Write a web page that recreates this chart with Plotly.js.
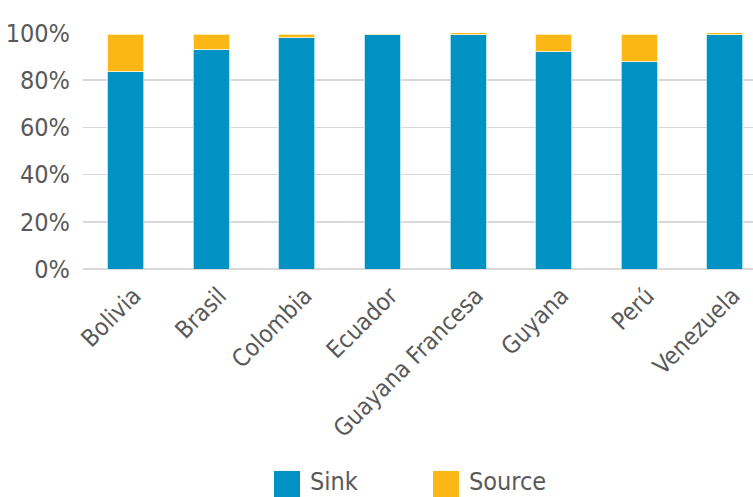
<!DOCTYPE html>
<html>
<head>
<meta charset="utf-8">
<script src="https://cdn.plot.ly/plotly-3.0.1.min.js"></script>
<style>
html,body{margin:0;padding:0;background:#fff;}
#chart{width:753px;height:497px;}
</style>
</head>
<body>
<div id="chart"></div>
<script>
const countries = ["Bolivia","Brasil","Colombia","Ecuador","Guayana Francesa","Guyana","Perú","Venezuela"];
const sinkValues = [83.9, 93.2, 98.3, 99.4, 99.4, 92.3, 88.0, 99.4];
const sourceValues = [15.5, 6.2, 1.1, 0.0, 1.2, 7.1, 11.4, 1.2];
const yTickValues = [0, 20, 40, 60, 80, 100];
const yTickLabels = ["0%", "20%", "40%", "60%", "80%", "100%"];
const seriesNames = ["Sink", "Source"];
const seriesColors = ["#0192C4", "#FBB716"];

const FONT = "'DejaVu Sans Condensed', 'Liberation Sans Narrow', sans-serif";
const TXT = "#595959";

const traces = [
  {type:"bar", name:seriesNames[0], x:countries, y:sinkValues,
   marker:{color:seriesColors[0], line:{color:"rgba(180,225,240,0.9)", width:1}}, showlegend:false, hoverinfo:"y"},
  {type:"bar", name:seriesNames[1], x:countries, y:sourceValues,
   marker:{color:seriesColors[1], line:{color:"rgba(255,240,190,0.9)", width:1}}, showlegend:false, hoverinfo:"y"}
];

function px2x(px){ return (px-83)/670; }
function py2y(py){ return (269.3-py)/236.3; }

const legendItems = [
  {x0:274, x1:300, tx:308},
  {x0:433, x1:459, tx:467}
];
const shapes = legendItems.map((it,i)=>({
  type:"rect", xref:"paper", yref:"paper",
  x0:px2x(it.x0), x1:px2x(it.x1), y0:py2y(471.5), y1:py2y(499),
  fillcolor:seriesColors[i], line:{width:0}
}));
const annotations = legendItems.map((it,i)=>({
  xref:"paper", yref:"paper", x:px2x(it.tx), y:py2y(482),
  xanchor:"left", yanchor:"middle", text:seriesNames[i], showarrow:false,
  font:{family:FONT, size:25, color:TXT}
}));

const layout = {
  width:753, height:497,
  margin:{l:83, r:0, t:33, b:228, pad:0},
  paper_bgcolor:"#fff", plot_bgcolor:"#fff",
  barmode:"stack", bargap:0.58,
  font:{family:FONT, color:TXT},
  xaxis:{
    type:"category", range:[-0.5, 7.33], tickangle:-45,
    tickfont:{family:FONT, size:24, color:TXT},
    showgrid:false, ticks:"", showline:false, zeroline:false, automargin:false,
    ticklabelshift:8, ticklabelstandoff:7
  },
  yaxis:{
    range:[0, 100], tickmode:"array", tickvals:yTickValues, ticktext:yTickLabels,
    tickfont:{family:FONT, size:25, color:TXT},
    showgrid:true, gridcolor:"#d9d9d9", gridwidth:1.5,
    zeroline:true, zerolinecolor:"#d9d9d9", zerolinewidth:2,
    ticks:"", ticklabelstandoff:12, showline:false, automargin:false
  },
  shapes:shapes, annotations:annotations, showlegend:false
};

Plotly.newPlot("chart", traces, layout, {displayModeBar:false, staticPlot:true});
</script>
</body>
</html>
